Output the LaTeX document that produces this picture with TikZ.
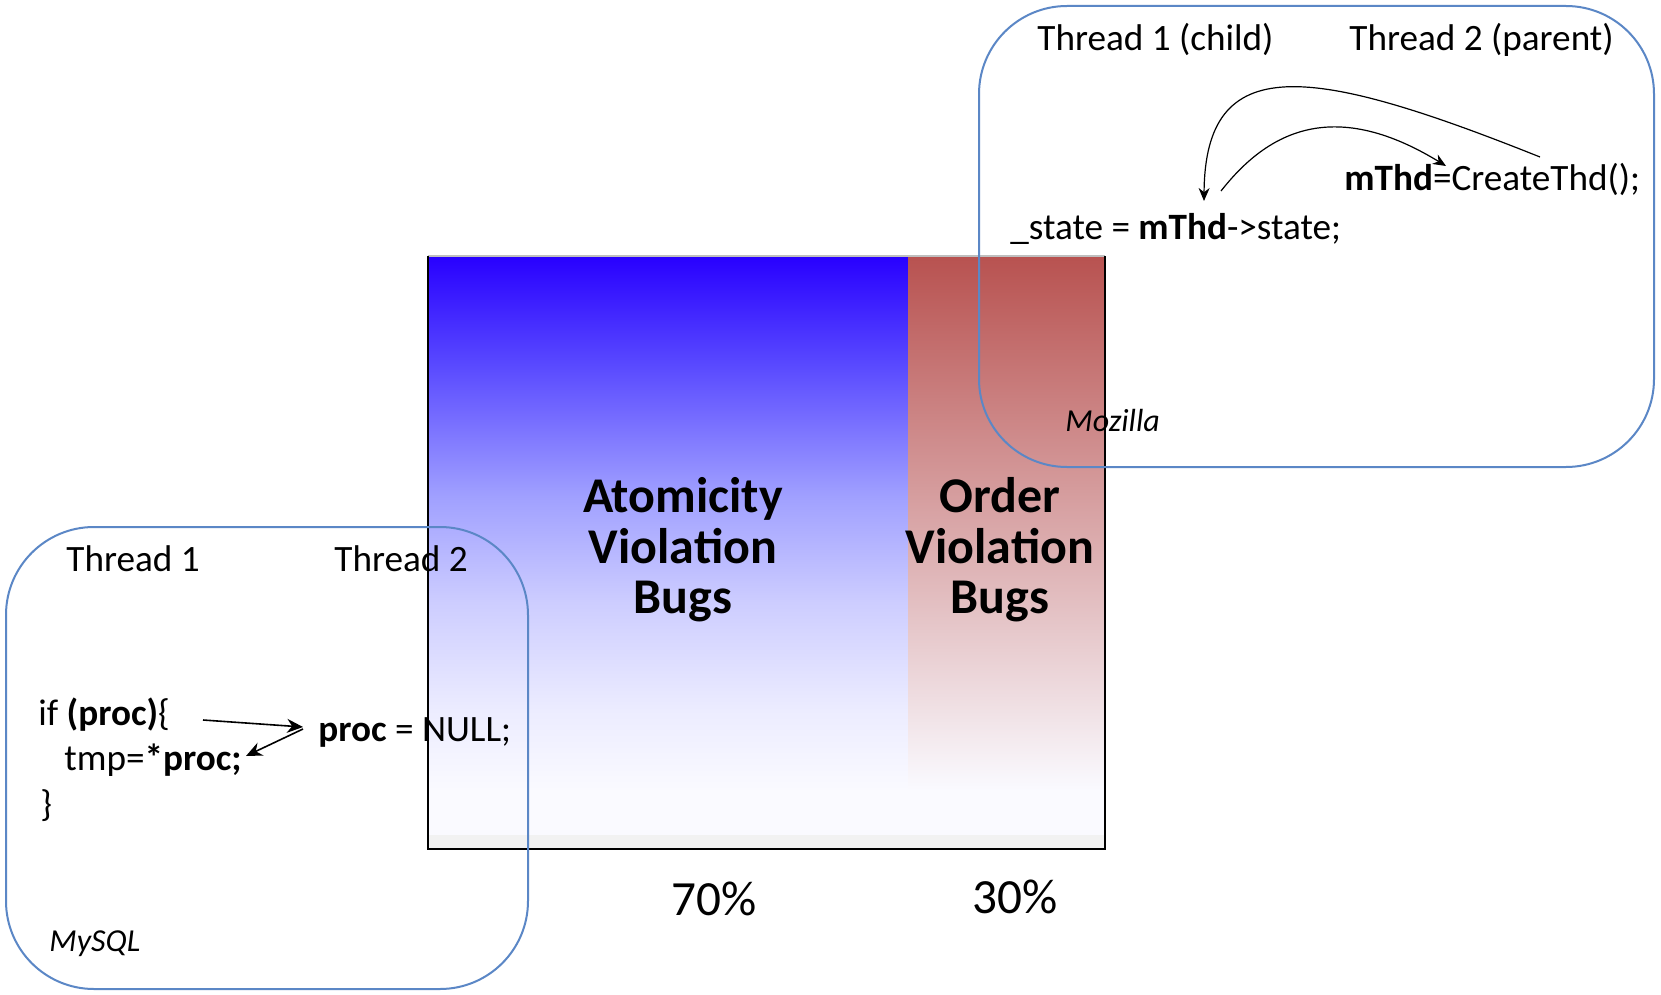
\documentclass[tikz,border=0pt]{standalone}
\usepackage{fontspec}
\setmainfont{Carlito}
\usetikzlibrary{arrows.meta}
\definecolor{boxblue}{RGB}{91,135,198}
\definecolor{atomblue}{RGB}{40,0,255}
\definecolor{orderred}{RGB}{184,82,80}
\definecolor{stripgray}{RGB}{242,242,242}
\definecolor{faintlav}{RGB}{250,250,255}
\pgfdeclareverticalshading{atomshade}{100bp}{%
  color(0bp)=(white); color(25bp)=(faintlav);
  color(32.5bp)=(rgb,255:red,236;green,236;blue,255);
  color(42.5bp)=(rgb,255:red,205;green,205;blue,255);
  color(52.5bp)=(rgb,255:red,160;green,160;blue,255);
  color(65bp)=(rgb,255:red,88;green,72;blue,255);
  color(75bp)=(rgb,255:red,40;green,0;blue,255);
  color(100bp)=(rgb,255:red,40;green,0;blue,255)}
\tikzset{
  codetxt/.style={inner sep=0pt, anchor=base west, font=\fontsize{18.6}{22.5}\selectfont},
  labeltxt/.style={inner sep=0pt, anchor=base west, font=\fontsize{16}{19}\selectfont\itshape},
  bigtxt/.style={inner sep=0pt, align=center, font=\fontsize{25}{25.2}\selectfont\bfseries},
  pcttxt/.style={inner sep=0pt, anchor=base, font=\fontsize{24.6}{29}\selectfont},
  codearrow/.style={-{Stealth[length=8pt,width=7pt]}, line width=0.8pt},
  curvearrow/.style={-{Stealth[length=6.5pt,width=5.5pt]}, line width=0.6pt},
  roundbox/.style={draw=boxblue, line width=1pt, rounded corners=44pt},
}
\begin{document}
\begin{tikzpicture}[x=0.5pt, y=-0.5pt]
\useasboundingbox (0,0) rectangle (1661,995);
\fill[white] (0,0) rectangle (1661,995);

% chart
\shade[shading=atomshade] (428,256) rectangle (908,790);
\shade[top color=orderred, bottom color=faintlav] (908,256) rectangle (1105,790);
\fill[faintlav] (428,790) rectangle (1105,835);
\fill[stripgray] (428,835) rectangle (1105,849);
\draw[gray!50, line width=0.6pt] (428,256) -- (1105,256);
\draw[black, line width=0.8pt] (428,256) -- (428,849) -- (1105,849) -- (1105,256);

\node[bigtxt] (atom) at (683,550) {Atomicity\\Violation\\Bugs};
\node[bigtxt] (order) at (1000,550) {Order\\Violation\\Bugs};
\node[pcttxt] (p70) at (714,915) {70\%};
\node[pcttxt] (p30) at (1015,913) {30\%};

% Mozilla box
\draw[roundbox] (979,6) rectangle (1654,467);
\node[codetxt] (t1c) at (1037,51) {Thread 1 (child)};
\node[codetxt] (t2p) at (1349,51) {Thread 2 (parent)};
\node[codetxt] (create) at (1344,191) {\textbf{mThd}=CreateThd();};
\node[codetxt] (state) at (1010,240) {\_state = \textbf{mThd}->state;};
\node[labeltxt] (moz) at (1065,431) {Mozilla};
\coordinate (cAs) at (1540,157);
\coordinate (cAe) at (1204,201);
\coordinate (cBs) at (1221,191);
\coordinate (cBe) at (1446,166);
\draw[curvearrow] (cAs) .. controls (1310,65) and (1205,50) .. (cAe);
\draw[curvearrow] (cBs) .. controls (1265,135) and (1330,95) .. (cBe);

% MySQL box
\draw[roundbox] (6,527) rectangle (528,989);
\node[codetxt] (t1) at (66,571) {Thread 1};
\node[codetxt] (t2) at (334,571) {Thread 2};
\node[codetxt] (ifp) at (38,725) {if \textbf{(proc)}\{};
\node[codetxt] (tmp) at (64,770) {tmp=\textbf{*proc;}};
\node[codetxt] (brace) at (40,816) {\}};
\node[codetxt] (null) at (318,741) {\textbf{proc} = NULL;};
\node[labeltxt] (mysql) at (49,951) {MySQL};
\coordinate (a1s) at (203,720);
\coordinate (a1e) at (303,727);
\coordinate (a2s) at (303,729);
\coordinate (a2e) at (246,756);
\draw[codearrow] (a1s) -- (a1e);
\draw[codearrow] (a2s) -- (a2e);
\end{tikzpicture}
\end{document}
